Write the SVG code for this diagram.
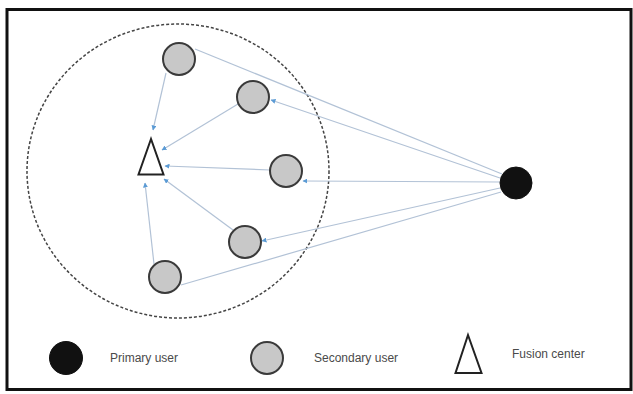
<svg xmlns="http://www.w3.org/2000/svg" width="633" height="394" viewBox="0 0 633 394">
<defs>
<style>
.su{fill:#c8c8c8;stroke:#3a3a3a;stroke-width:2}
.pu{fill:#111;stroke:#111;stroke-width:1}
.fc{fill:#fff;stroke:#222;stroke-width:2;stroke-linejoin:miter}
.ln{stroke:#b2c2d6;stroke-width:1.2;fill:none}
.lbl{font-family:"Liberation Sans",Arial,sans-serif;font-size:12px;fill:#4a4a4a}
</style>
<marker id="ah" viewBox="0 0 10 10" refX="9" refY="5" markerWidth="5" markerHeight="5" orient="auto" markerUnits="userSpaceOnUse">
<path d="M0,0 L10,5 L0,10 z" fill="#5b9bd5"/>
</marker>
</defs>
<rect x="0" y="0" width="633" height="394" fill="#fff"/>
<rect x="7" y="9.5" width="624" height="380" fill="#fff" stroke="#111" stroke-width="3"/>
<ellipse cx="178" cy="171" rx="151" ry="147" fill="none" stroke="#444" stroke-width="1.5" stroke-dasharray="3,2"/>
<g id="connectors">
<line class="ln" x1="166" y1="73" x2="153" y2="130" marker-end="url(#ah)"/>
<line class="ln" x1="238" y1="104" x2="162" y2="150" marker-end="url(#ah)"/>
<line class="ln" x1="270" y1="170" x2="165" y2="166" marker-end="url(#ah)"/>
<line class="ln" x1="233" y1="230" x2="164" y2="179" marker-end="url(#ah)"/>
<line class="ln" x1="154" y1="264" x2="145" y2="183" marker-end="url(#ah)"/>
<line class="ln" x1="502" y1="174" x2="195" y2="49"/>
<line class="ln" x1="500" y1="178" x2="271" y2="100" marker-end="url(#ah)"/>
<line class="ln" x1="500" y1="182" x2="303" y2="181" marker-end="url(#ah)"/>
<line class="ln" x1="500" y1="188" x2="262" y2="241" marker-end="url(#ah)"/>
<line class="ln" x1="501" y1="192" x2="181" y2="285"/>
</g>
<g id="su1"><circle class="su" cx="179" cy="59" r="16"/></g>
<g id="su2"><circle class="su" cx="253" cy="97" r="16"/></g>
<g id="su3"><circle class="su" cx="286" cy="171" r="16"/></g>
<g id="su4"><circle class="su" cx="245" cy="242" r="16"/></g>
<g id="su5"><circle class="su" cx="165" cy="277" r="16"/></g>
<g id="pu"><circle class="pu" cx="516" cy="183" r="16"/></g>
<g id="fc"><polygon class="fc" points="151,139 138.5,174.5 163.5,174.5"/></g>
<g id="legend">
<circle class="pu" cx="66" cy="358" r="16.5"/>
<text class="lbl" x="110" y="362">Primary user</text>
<circle class="su" cx="267" cy="358" r="16"/>
<text class="lbl" x="314" y="362">Secondary user</text>
<polygon class="fc" points="468,335 455.5,373 481.5,373"/>
<text class="lbl" x="512" y="358">Fusion center</text>
</g>
</svg>
